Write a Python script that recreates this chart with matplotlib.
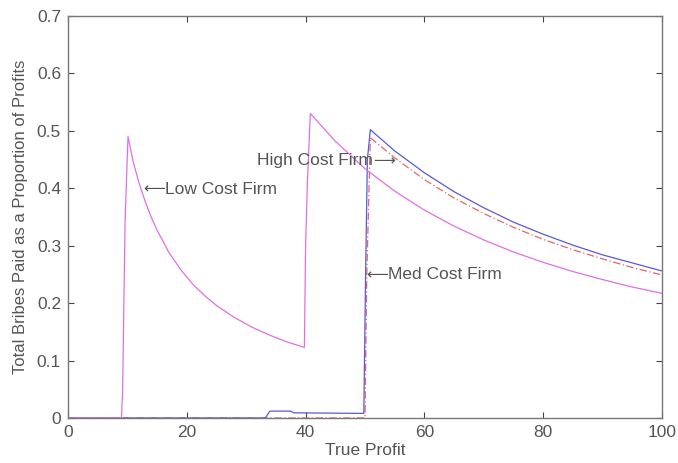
import numpy as np
import matplotlib.pyplot as plt

plt.rcParams['font.family'] = ['Liberation Sans', 'DejaVu Sans']

# Low cost firm (magenta)
low_x = [0, 9.0, 9.2, 9.6, 10.1, 11, 12, 13, 14, 15, 17, 19, 21, 23, 25, 28, 31, 34, 37, 39.8,
         40.0, 40.3, 40.8, 45, 50, 55, 60, 65, 70, 75, 80, 85, 90, 95, 100]
low_y = [0, 0, 0.05, 0.34, 0.49, 0.445, 0.408, 0.377, 0.35, 0.327, 0.288, 0.258, 0.233, 0.213,
         0.196, 0.175, 0.158, 0.144, 0.132, 0.123,
         0.30, 0.41, 0.53, 0.482, 0.434, 0.395, 0.362, 0.334, 0.31, 0.289, 0.271, 0.255, 0.241,
         0.228, 0.217]

# Medium cost firm (blue)
med_x = [0, 33.2, 34, 37.5, 38, 49.8, 50.1, 50.4, 50.9, 55, 60, 65, 70, 75, 80, 85, 90, 95, 100]
med_y = [0, 0, 0.012, 0.012, 0.009, 0.008, 0.25, 0.45, 0.502, 0.465, 0.427, 0.394, 0.366,
         0.341, 0.32, 0.301, 0.284, 0.27, 0.256]

# High cost firm (red dash-dot)
high_x = [0, 50.0, 50.3, 50.9, 55, 60, 65, 70, 75, 80, 85, 90, 95, 100]
high_y = [0, 0, 0.25, 0.488, 0.453, 0.415, 0.383, 0.356, 0.332, 0.311, 0.293, 0.277, 0.262, 0.249]

xticks = [0, 20, 40, 60, 80, 100]
yticks = [0, 0.1, 0.2, 0.3, 0.4, 0.5, 0.6, 0.7]
ytick_labels = ['0', '0.1', '0.2', '0.3', '0.4', '0.5', '0.6', '0.7']

grey = '#555555'
fs = 12.5

fig = plt.figure(figsize=(6.78, 4.63), dpi=100)
ax = fig.add_axes([0.1003, 0.0972, 0.8761, 0.8683])

ax.plot(high_x, high_y, color='#e06868', lw=0.9, linestyle='-.', dashes=(6, 2, 1, 2))
ax.plot(med_x, med_y, color='#5a5ad8', lw=0.9)
ax.plot(low_x, low_y, color='#e070e0', lw=0.9)

ax.set_xlim(0, 100)
ax.set_ylim(0, 0.7)
ax.set_xticks(xticks)
ax.set_yticks(yticks)
ax.set_yticklabels(ytick_labels)
ax.tick_params(direction='in', top=True, right=True, length=4, width=0.8,
               colors='#444444', labelcolor=grey, labelsize=fs)
ax.tick_params(axis='y', pad=5)
ax.tick_params(axis='x', pad=5)
for sp in ax.spines.values():
    sp.set_color('#777777')
    sp.set_linewidth(1.0)

ax.set_xlabel('True Profit', color=grey, fontsize=fs, labelpad=2)
ax.set_ylabel('Total Bribes Paid as a Proportion of Profits', color=grey, fontsize=12,
              labelpad=6)

arrow_fam = ['DejaVu Sans']
# long arrows drawn as separate text pieces so the label font stays Liberation
t = ax.text(12.7, 0.398, '\u27f5', color=grey, fontsize=11, va='center', ha='left',
            family=arrow_fam)
ax.annotate('Low Cost Firm', xy=(1, 0.5), xycoords=t, color=grey, fontsize=fs,
            va='center', ha='left')

t = ax.text(55.0, 0.448, '\u27f6', color=grey, fontsize=11, va='center', ha='right',
            family=arrow_fam)
ax.annotate('High Cost Firm', xy=(0, 0.5), xycoords=t, color=grey, fontsize=fs,
            va='center', ha='right')

t = ax.text(50.2, 0.249, '\u27f5', color=grey, fontsize=11, va='center', ha='left',
            family=arrow_fam)
ax.annotate('Med Cost Firm', xy=(1, 0.5), xycoords=t, color=grey, fontsize=fs,
            va='center', ha='left')

fig.savefig('out.png', dpi=100)
